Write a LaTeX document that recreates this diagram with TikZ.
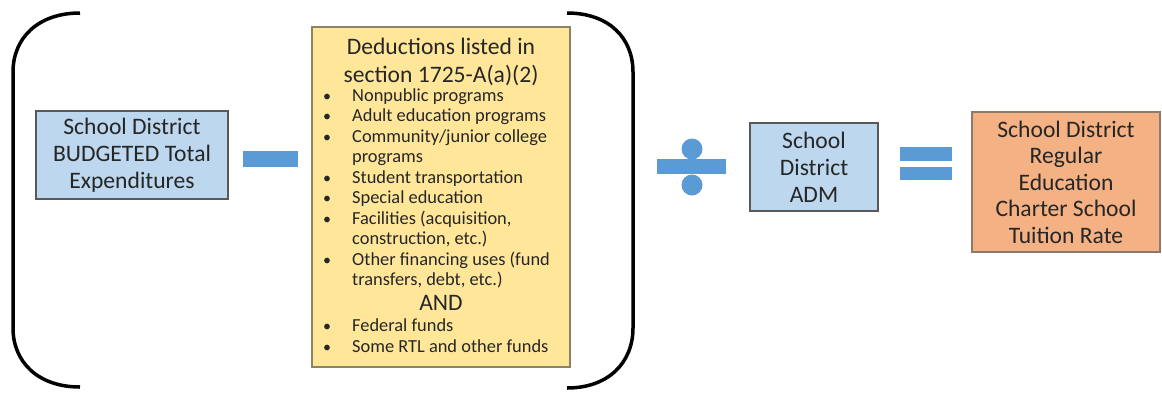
\documentclass[tikz,border=0pt]{standalone}
\usepackage{fontspec}
\setmainfont{Carlito}
\definecolor{bluefill}{HTML}{BDD7EE}
\definecolor{yellowfill}{HTML}{FFE699}
\definecolor{orangefill}{HTML}{F4B183}
\definecolor{symblue}{HTML}{5B9BD5}
\definecolor{txt}{HTML}{262626}
\definecolor{edgegray}{HTML}{595959}
\definecolor{yedge}{HTML}{8A8466}
\definecolor{oedge}{HTML}{8C7A6E}
\tikzset{
  bigtxt/.style={font=\fontsize{23.6}{27}\selectfont, text=txt},
  smalltxt/.style={font=\fontsize{18.4}{20.5}\selectfont, text=txt},
  bluebox/.style={draw=edgegray, line width=1.3pt, fill=bluefill, inner sep=0pt, align=center, bigtxt},
  yellowbox/.style={draw=yedge, line width=1.3pt, fill=yellowfill, inner sep=0pt},
  orangebox/.style={draw=oedge, line width=1.3pt, fill=orangefill, inner sep=0pt, align=center, font=\fontsize{23.6}{26.5}\selectfont, text=txt},
  bracket/.style={line width=3.5pt, draw=black},
  symb/.style={fill=symblue, draw=none},
  bultxt/.style={font=\fontsize{16}{20}\selectfont, text=txt, anchor=base west, inner sep=0pt},
  itemtxt/.style={smalltxt, anchor=base west, inner sep=0pt},
}
\begin{document}
\begin{tikzpicture}[x=1pt,y=-1pt]
\useasboundingbox (0,0) rectangle (1162,392);
% brackets
\draw[bracket] (80,13) .. controls (38,13) and (13,38) .. (13,72) -- (13,328) .. controls (13,362) and (38,387) .. (80,387);
\draw[bracket] (567,13) .. controls (609,13) and (633,38) .. (633,72) -- (633,328) .. controls (633,362) and (609,388) .. (567,388);
% left box
\node[bluebox, minimum width=192pt, minimum height=88pt] (budget) at (132,155) {School District\\BUDGETED Total\\Expenditures};
% minus
\fill[symb] (243,151) rectangle (298,167);
% deductions box
\node[yellowbox, minimum width=258pt, minimum height=340pt] (ded) at (441,197) {};
\node[bigtxt, anchor=base, inner sep=0pt] (t1) at (441,54) {Deductions listed in};
\node[bigtxt, anchor=base, inner sep=0pt] (t2) at (441,82) {section 1725-A(a)(2)};
\foreach \yy/\linetext/\hasbul [count=\i] in {
  101/{Nonpublic programs}/1,
  121.5/{Adult education programs}/1,
  142/{Community/junior college}/1,
  162.5/{programs}/0,
  183/{Student transportation}/1,
  203.5/{Special education}/1,
  224/{Facilities (acquisition,}/1,
  244.5/{construction, etc.)}/0,
  265/{Other financing uses (fund}/1,
  285.5/{transfers, debt, etc.)}/0,
  331/{Federal funds}/1,
  352/{Some RTL and other funds}/1}{
  \node[itemtxt] (it\i) at (352,\yy) {\linetext};
  \ifnum\hasbul=1 \node[bultxt] (b\i) at (323,\yy) {•};\fi
}
\node[bigtxt, anchor=base, inner sep=0pt] (and) at (441,310) {AND};
% divide
\fill[symb] (657,159) rectangle (726,174);
\fill[symb] (692,149) circle (10.5);
\fill[symb] (692,185) circle (10.5);
% ADM box
\node[bluebox, minimum width=128pt, minimum height=88pt] (adm) at (814,167) {School\\District\\ADM};
% equals
\fill[symb] (900,147) rectangle (952,161);
\fill[symb] (900,167) rectangle (952,180);
% result box
\node[orangebox, minimum width=188pt, minimum height=140pt] (rate) at (1066,182) {School District\\Regular\\Education\\Charter School\\Tuition Rate};
\end{tikzpicture}
\end{document}
